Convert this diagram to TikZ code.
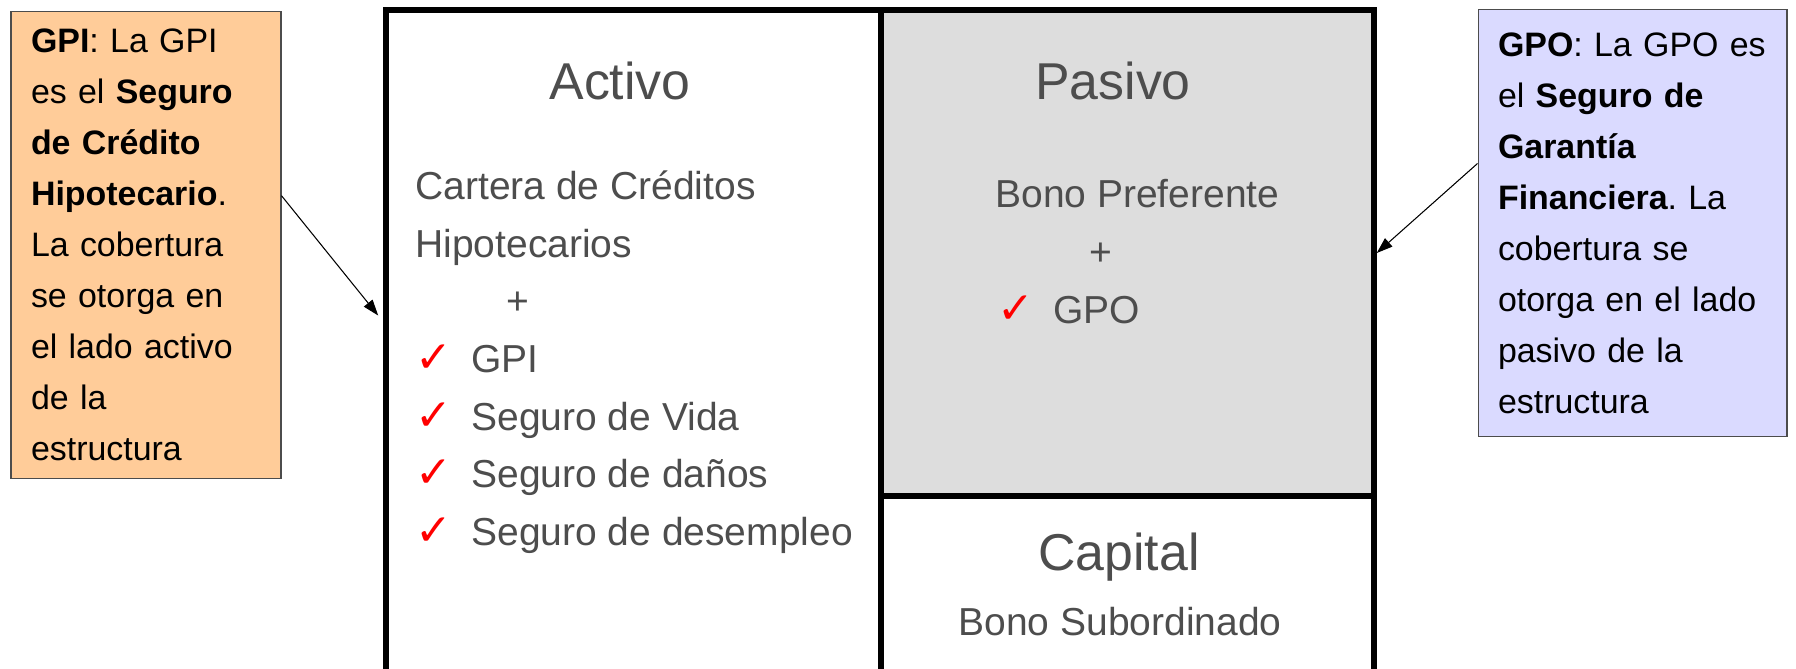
\documentclass[tikz,border=0pt]{standalone}
\usepackage{fontspec}
\setmainfont{Liberation Sans}
\newfontfamily\symfont{DejaVu Sans}
\usetikzlibrary{arrows.meta}
\frenchspacing

\definecolor{notepeach}{RGB}{255,204,153}
\definecolor{notelilac}{RGB}{218,218,255}
\definecolor{pasivogray}{RGB}{221,221,221}
\definecolor{bodytext}{RGB}{77,77,77}
\newcommand{\chk}{\makebox[1.12cm][l]{\textcolor{red}{\symfont\fontsize{25}{25}\selectfont ✓}}}

\tikzset{
  block/.style={draw=black, line width=3.2pt, inner sep=0pt},
  note/.style={draw=black!70, line width=0.6pt, inner xsep=0.4cm, inner ysep=0pt, align=left,
    font=\fontsize{19.3}{29}\selectfont},
  title/.style={text=bodytext, font=\fontsize{29.5}{35}\selectfont, anchor=base, inner sep=0pt},
  entry/.style={text=bodytext, font=\fontsize{22.2}{33}\selectfont, anchor=base west, inner sep=0pt},
  pointer/.style={-{Triangle[length=0.32cm, width=0.22cm]}, line width=0.6pt}
}

\begin{document}
\begin{tikzpicture}[x=0.02cm, y=-0.02cm]
  \clip (0,0) rectangle (1796,669);

  % balance sheet frame
  \node[block, minimum width=9.9cm, minimum height=13.7cm] (activo) at (633.5,352.5) {};
  \node[block, fill=pasivogray, minimum width=9.86cm, minimum height=9.72cm] (pasivo) at (1127.5,253) {};
  \node[block, minimum width=9.86cm, minimum height=4.08cm] (capital) at (1127.5,598) {};

  % activo side
  \node[title] (activotitle) at (620,100) {Activo};
  \node[entry] (cartera) at (415,199) {Cartera de Créditos};
  \node[entry] (hipot) at (415,257) {Hipotecarios};
  \node[entry] (plusA) at (506,314) {+};
  \node[entry] (gpi) at (415,372) {\chk GPI};
  \node[entry] (vida) at (415,430) {\chk Seguro de Vida};
  \node[entry] (danos) at (415,487) {\chk Seguro de daños};
  \node[entry] (desempleo) at (415,545) {\chk Seguro de desempleo};

  % pasivo side
  \node[title] (pasivotitle) at (1113,100) {Pasivo};
  \node[entry] (bonopref) at (995,207) {Bono Preferente};
  \node[entry] (plusP) at (1089,265) {+};
  \node[entry] (gpo) at (997,323) {\chk GPO};

  % capital
  \node[title] (capitaltitle) at (1119,570) {Capital};
  \node[entry, anchor=base] (bonosub) at (1120,635) {Bono Subordinado};

  % notes
  \node[note, fill=notepeach, text width=4.6cm, minimum height=9.36cm] (gpinote) at (146,245)
    {\textbf{GPI}: La GPI\\ es el \textbf{Seguro}\\ \textbf{de Crédito}\\ \textbf{Hipotecario}.\\
     La cobertura\\ se otorga en\\ el lado activo\\ de la\\ estructura};
  \node[note, fill=notelilac, text width=5.38cm, minimum height=8.56cm] (gponote) at (1632.5,223)
    {\textbf{GPO}: La GPO es\\ el \textbf{Seguro de}\\ \textbf{Garantía}\\ \textbf{Financiera}. La\\
     cobertura se\\ otorga en el lado\\ pasivo de la\\ estructura};

  \draw[pointer, shorten >=0.16cm] (gpinote.20) -- (activo.173.5);
  \draw[pointer] (gponote.159) -- (pasivo.east);
\end{tikzpicture}
\end{document}
